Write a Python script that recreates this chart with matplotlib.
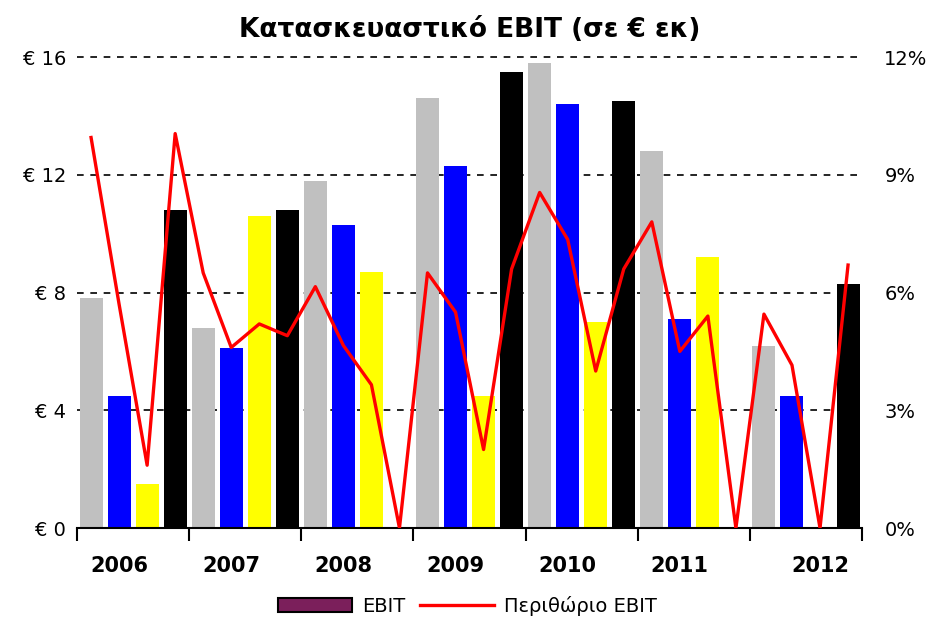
import numpy as np
import matplotlib.pyplot as plt
from matplotlib.patches import Patch
from matplotlib.lines import Line2D

# quarterly EBIT (€ m), 2006 Q1 .. 2012 Q4
ebit = [7.8, 4.5, 1.5, 10.8,
        6.8, 6.1, 10.6, 10.8,
        11.8, 10.3, 8.7, 0.0,
        14.6, 12.3, 4.5, 15.5,
        15.8, 14.4, 7.0, 14.5,
        12.8, 7.1, 9.2, 0.0,
        6.2, 4.5, 0.05, 8.3]
# EBIT margin (%)
margin = [9.95, 5.7, 1.6, 10.05,
          6.5, 4.6, 5.2, 4.9,
          6.15, 4.65, 3.65, 0.0,
          6.5, 5.5, 2.0, 6.6,
          8.55, 7.35, 4.0, 6.6,
          7.8, 4.5, 5.4, 0.0,
          5.45, 4.15, 0.0, 6.7]
years = ['2006', '2007', '2008', '2009', '2010', '2011', '2012']
year_pos = [1, 5, 9, 13, 17, 21, 26]
quarter_colors = ['#C0C0C0', '#0000FF', '#FFFF00', '#000000']

fig = plt.figure(figsize=(9.35, 6.18), dpi=100)
ax = fig.add_axes([0.0824, 0.1456, 0.8396, 0.7621])

x = np.arange(len(ebit))
colors = [quarter_colors[i % 4] for i in x]
ax.bar(x, ebit, width=0.82, color=colors, zorder=2)

ax.set_xlim(-0.5, 27.5)
ax.set_ylim(0, 16)
ax.set_yticks([0, 4, 8, 12, 16])
ax.set_yticklabels(['€ 0', '€ 4', '€ 8', '€ 12', '€ 16'])
ax.yaxis.grid(True, linestyle=(0, (4, 4)), color='black', linewidth=1.2, zorder=0)
ax.set_axisbelow(True)
for gl in ax.get_ygridlines():
    gl.set_clip_on(False)

for s in ['top', 'left', 'right']:
    ax.spines[s].set_visible(False)
ax.spines['bottom'].set_linewidth(1.5)
ax.spines['bottom'].set_zorder(3)

# year separators as major ticks, year names as minor ticks
ax.set_xticks(np.arange(-0.5, 28, 4))
ax.set_xticklabels([])
ax.tick_params(axis='x', which='major', length=9, width=1.5, direction='out')
ax.set_xticks(year_pos, minor=True)
ax.set_xticklabels(years, minor=True, fontsize=15, fontweight='bold')
ax.tick_params(axis='x', which='minor', length=0, pad=20)
ax.tick_params(axis='y', length=0, labelsize=14, pad=8)

ax2 = ax.twinx()
ax2.plot(x, margin, color='red', linewidth=2.4)
ax2.set_ylim(0, 12)
ax2.set_yticks([0, 3, 6, 9, 12])
ax2.set_yticklabels(['0%', '3%', '6%', '9%', '12%'])
ax2.tick_params(axis='y', length=0, labelsize=14, pad=16)
for s in ['top', 'left', 'right', 'bottom']:
    ax2.spines[s].set_visible(False)

fig.text(0.502, 0.952, 'Κατασκευαστικό EBIT (σε € εκ)', ha='center', va='center',
         fontsize=19, fontweight='bold')

handles = [Patch(facecolor='#7B1F5B', edgecolor='black', linewidth=1.5),
           Line2D([0], [0], color='red', linewidth=2.4)]
fig.legend(handles, ['EBIT', 'Περιθώριο EBIT'], loc='center', bbox_to_anchor=(0.5, 0.02),
           ncol=2, frameon=False, fontsize=14, handlelength=3.8, columnspacing=0.8,
           handletextpad=0.5)

fig.savefig('out.png', dpi=100)
